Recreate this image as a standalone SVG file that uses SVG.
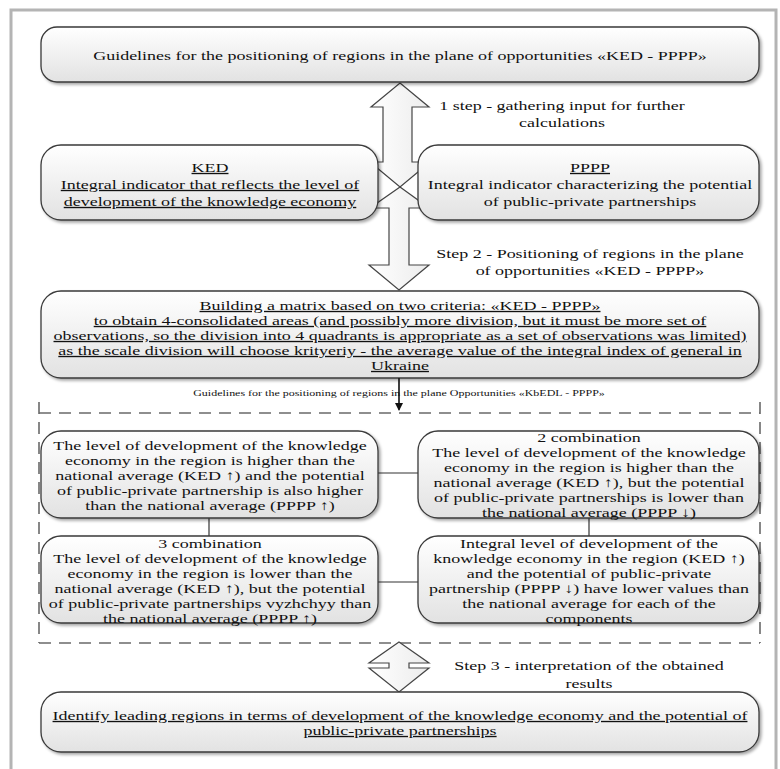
<svg xmlns="http://www.w3.org/2000/svg" width="780" height="769" viewBox="0 0 780 769">
<defs>
<linearGradient id="boxFill" x1="0" y1="0" x2="0" y2="1">
<stop offset="0" stop-color="#ffffff"/>
<stop offset="1" stop-color="#e2e2e2"/>
</linearGradient>
<linearGradient id="arrowFill" x1="0" y1="0" x2="1" y2="0">
<stop offset="0" stop-color="#ffffff"/>
<stop offset="1" stop-color="#ececec"/>
</linearGradient>
<filter id="shadow" x="-5%" y="-10%" width="110%" height="130%">
<feDropShadow dx="2" dy="2" stdDeviation="1.5" flood-color="#000" flood-opacity="0.35"/>
</filter>
<marker id="arrowHead" markerWidth="8" markerHeight="8" refX="7" refY="4" orient="auto" markerUnits="userSpaceOnUse">
<path d="M0,0 L8,4 L0,8 Z" fill="#111"/>
</marker>
<style>
.frame{fill:#ffffff;stroke:#b4b4b4;stroke-width:3}
.box{fill:url(#boxFill);stroke:#3a3a3a;stroke-width:1.3;filter:url(#shadow)}
.blk{fill:url(#arrowFill);stroke:#454545;stroke-width:1.2;stroke-linejoin:miter}
.dash{fill:none;stroke:#6a6a6a;stroke-width:1.6;stroke-dasharray:12 8}
.ln{fill:none;stroke:#333;stroke-width:1.2}
text{font-family:"Liberation Serif","Times New Roman",serif;font-size:13.5px;fill:#111;text-anchor:middle}
.u{text-decoration:underline}
.sm{font-size:9px}
</style>
</defs>

<rect class="frame" x="11" y="10" width="765" height="775"/>

<g id="connectors">
<polygon id="arrow-step1" class="blk" points="400,83 429,107 412,107 412,162 430,162 400,187 370,162 383,162 383,107 371,107"/>
<polygon id="arrow-step2" class="blk" points="400,187 429,208 409,208 409,265 429,265 399,290 369,265 389,265 389,208 370,208"/>
<line class="ln" x1="399" y1="378" x2="399" y2="410" stroke="#111" marker-end="url(#arrowHead)"/>
<path class="dash" d="M39,402 L39,643 M760,402 L760,643 M39,413 L760,413 M39,643 L760,643"/>
<line class="ln" x1="378" y1="473" x2="418" y2="473"/>
<line class="ln" x1="209" y1="518" x2="209" y2="536"/>
<line class="ln" x1="589" y1="518" x2="589" y2="536"/>
<line class="ln" x1="378" y1="582" x2="418" y2="582"/>
<polygon id="arrow-step3" class="blk" points="399,642 429,663 409,663 409,668 429,668 399,692 369,668 389,668 389,663 369,663"/>
</g>

<g id="node-guidelines">
<rect class="box" x="41" y="27" width="718" height="55" rx="16"/>
<g transform="translate(400 0) scale(1.333 1)"><text x="0" y="60">Guidelines for the positioning of regions in the plane of opportunities «KED - PPPP»</text></g>
</g>

<g id="label-step1" transform="translate(562 0) scale(1.333 1)">
<text x="0" y="110">1 step - gathering input for further</text>
<text x="0" y="127">calculations</text>
</g>

<g id="node-ked">
<rect class="box" x="41" y="145" width="337" height="75" rx="20"/>
<g transform="translate(210 0) scale(1.333 1)">
<text class="u" x="0" y="172">KED</text>
<text class="u" x="0" y="189">Integral indicator that reflects the level of</text>
<text class="u" x="0" y="206">development of the knowledge economy</text>
</g>
</g>

<g id="node-pppp">
<rect class="box" x="418" y="145" width="341" height="75" rx="20"/>
<g transform="translate(590 0) scale(1.333 1)">
<text class="u" x="0" y="172">PPPP</text>
<text x="0" y="189">Integral indicator characterizing the potential</text>
<text x="0" y="206">of public-private partnerships</text>
</g>
</g>

<g id="label-step2" transform="translate(590 0) scale(1.333 1)">
<text x="0" y="258">Step 2 - Positioning of regions in the plane</text>
<text x="0" y="275">of opportunities «KED - PPPP»</text>
</g>

<g id="node-matrix">
<rect class="box" x="41" y="291" width="718" height="87" rx="20"/>
<g transform="translate(400 0) scale(1.333 1)">
<text class="u" x="0" y="310">Building a matrix based on two criteria: «KED - PPPP»</text>
<text class="u" x="0" y="325">to obtain 4-consolidated areas (and possibly more division, but it must be more set of</text>
<text class="u" x="0" y="340">observations, so the division into 4 quadrants is appropriate as a set of observations was limited)</text>
<text class="u" x="0" y="355">as the scale division will choose krityeriy - the average value of the integral index of general in</text>
<text class="u" x="0" y="370">Ukraine</text>
</g>
</g>

<g id="label-guidelines-small" transform="translate(399 0) scale(1.333 1)">
<text class="sm" x="0" y="396">Guidelines for the positioning of regions in the plane Opportunities «KbEDL - PPPP»</text>
</g>
<line x1="399" y1="378" x2="399" y2="403" stroke="#111" stroke-width="1.2"/>

<g id="node-combination1">
<rect class="box" x="41" y="431" width="337" height="87" rx="20"/>
<g transform="translate(210 0) scale(1.333 1)">
<text x="0" y="450">The level of development of the knowledge</text>
<text x="0" y="465">economy in the region is higher than the</text>
<text x="0" y="480">national average (KED ↑) and the potential</text>
<text x="0" y="495">of public-private partnership is also higher</text>
<text x="0" y="510">than the national average (PPPP ↑)</text>
</g>
</g>

<g id="node-combination2">
<rect class="box" x="418" y="431" width="341" height="87" rx="20"/>
<g transform="translate(589 0) scale(1.333 1)">
<text x="0" y="442">2 combination</text>
<text x="0" y="457">The level of development of the knowledge</text>
<text x="0" y="472">economy in the region is higher than the</text>
<text x="0" y="487">national average (KED ↑), but the potential</text>
<text x="0" y="502">of public-private partnerships is lower than</text>
<text x="0" y="517">the national average (PPPP ↓)</text>
</g>
</g>

<g id="node-combination3">
<rect class="box" x="41" y="536" width="337" height="87" rx="20"/>
<g transform="translate(210 0) scale(1.333 1)">
<text x="0" y="548">3 combination</text>
<text x="0" y="563">The level of development of the knowledge</text>
<text x="0" y="578">economy in the region is lower than the</text>
<text x="0" y="593">national average (KED ↑), but the potential</text>
<text x="0" y="608">of public-private partnerships vyzhchyy than</text>
<text x="0" y="623">the national average (PPPP ↑)</text>
</g>
</g>

<g id="node-combination4">
<rect class="box" x="418" y="536" width="341" height="87" rx="20"/>
<g transform="translate(589 0) scale(1.333 1)">
<text x="0" y="548">Integral level of development of the</text>
<text x="0" y="563">knowledge economy in the region (KED ↑)</text>
<text x="0" y="578">and the potential of public-private</text>
<text x="0" y="593">partnership (PPPP ↓) have lower values than</text>
<text x="0" y="608">the national average for each of the</text>
<text x="0" y="623">components</text>
</g>
</g>

<g id="label-step3" transform="translate(589 0) scale(1.333 1)">
<text x="0" y="670">Step 3 - interpretation of the obtained</text>
<text x="0" y="688">results</text>
</g>

<g id="node-identify">
<rect class="box" x="41" y="692" width="718" height="60" rx="20"/>
<g transform="translate(400 0) scale(1.333 1)">
<text class="u" x="0" y="720">Identify leading regions in terms of development of the knowledge economy and the potential of</text>
<text class="u" x="0" y="735">public-private partnerships</text>
</g>
</g>
</svg>
